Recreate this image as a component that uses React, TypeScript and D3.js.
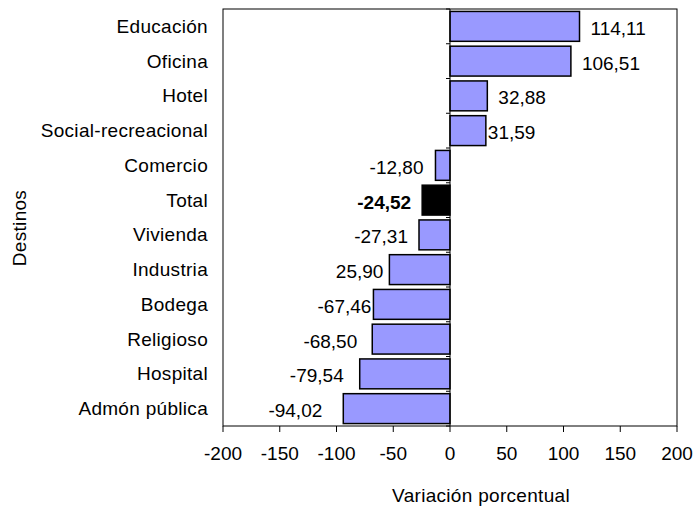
import React from "react";
import * as d3 from "d3";

const categories = [
  "Educación", "Oficina", "Hotel", "Social-recreacional", "Comercio", "Total",
  "Vivienda", "Industria", "Bodega", "Religioso", "Hospital", "Admón pública",
];
const values = [114.11, 106.51, 32.88, 31.59, -12.8, -24.52, -27.31, -53.4, -67.46, -68.5, -79.54, -94.02];
const valueLabels = ["114,11", "106,51", "32,88", "31,59", "-12,80", "-24,52", "-27,31", "25,90", "-67,46", "-68,50", "-79,54", "-94,02"];
const xTicks = [-200, -150, -100, -50, 0, 50, 100, 150, 200];
const highlight = "Total";
// per-label gap (px) between bar end and its value label, as in the source
const labelGap = [11, 11, 11, 2, 12, 11, 11, 6, 2, 15, 16, 21];

const W = 695, H = 506;
const left = 223, right = 677, top = 9, bottom = 426;
const FONT = "'Liberation Sans', Arial, sans-serif";
const FS = 19;

export default function App() {
  const x = d3.scaleLinear().domain([-200, 200]).range([left, right]);
  const y = d3.scaleBand<string>().domain(categories).range([top, bottom]).paddingInner(0.14).paddingOuter(0.07);
  const x0 = x(0);
  const step = (bottom - top) / categories.length;
  const bounds = d3.range(categories.length + 1).map((i) => top + i * step);

  return (
    <svg width={W} height={H} style={{ position: "absolute", left: 0, top: 0, background: "#fff" }} fontFamily={FONT}>
      <rect x={0} y={0} width={W} height={H} fill="#fff" />
      <rect x={left} y={top} width={right - left} height={bottom - top} fill="#fff" stroke="#000" strokeWidth={1} />
      {categories.map((c, i) => {
        const v = values[i];
        const xv = x(v);
        const isHi = c === highlight;
        return (
          <rect key={c} x={Math.min(x0, xv)} y={y(c)!} width={Math.abs(xv - x0)} height={y.bandwidth()}
            fill={isHi ? "#000" : "#9999FF"} stroke="#000" strokeWidth={1.5} />
        );
      })}
      <line x1={x0} x2={x0} y1={top} y2={bottom} stroke="#000" strokeWidth={1} />
      {bounds.map((b, i) => (
        <line key={i} x1={x0 - 4} x2={x0} y1={b} y2={b} stroke="#000" strokeWidth={1} />
      ))}
      {xTicks.map((t) => (
        <g key={t}>
          <line x1={x(t)} x2={x(t)} y1={bottom} y2={bottom + 6} stroke="#000" strokeWidth={1} />
          <text x={x(t)} y={453} textAnchor="middle" dominantBaseline="central" fontSize={FS}>{t}</text>
        </g>
      ))}
      {categories.map((c, i) => {
        const v = values[i];
        const cy = y(c)! + y.bandwidth() / 2;
        const pos = v >= 0;
        const lx = pos ? x(v) + labelGap[i] : x(v) - labelGap[i];
        return (
          <g key={"l" + c}>
            <text x={208} y={cy} textAnchor="end" dominantBaseline="central" fontSize={FS} letterSpacing={0.3}>{c}</text>
            <text x={lx} y={cy + 2} textAnchor={pos ? "start" : "end"} dominantBaseline="central" fontSize={FS}
              fontWeight={c === highlight ? "bold" : "normal"}>{valueLabels[i]}</text>
          </g>
        );
      })}
      <text x={481} y={495} textAnchor="middle" dominantBaseline="central" fontSize={FS} letterSpacing={0.3}>Variación porcentual</text>
      <text transform={`translate(19,228) rotate(-90)`} textAnchor="middle" dominantBaseline="central" fontSize={FS} letterSpacing={0.3}>Destinos</text>
    </svg>
  );
}
